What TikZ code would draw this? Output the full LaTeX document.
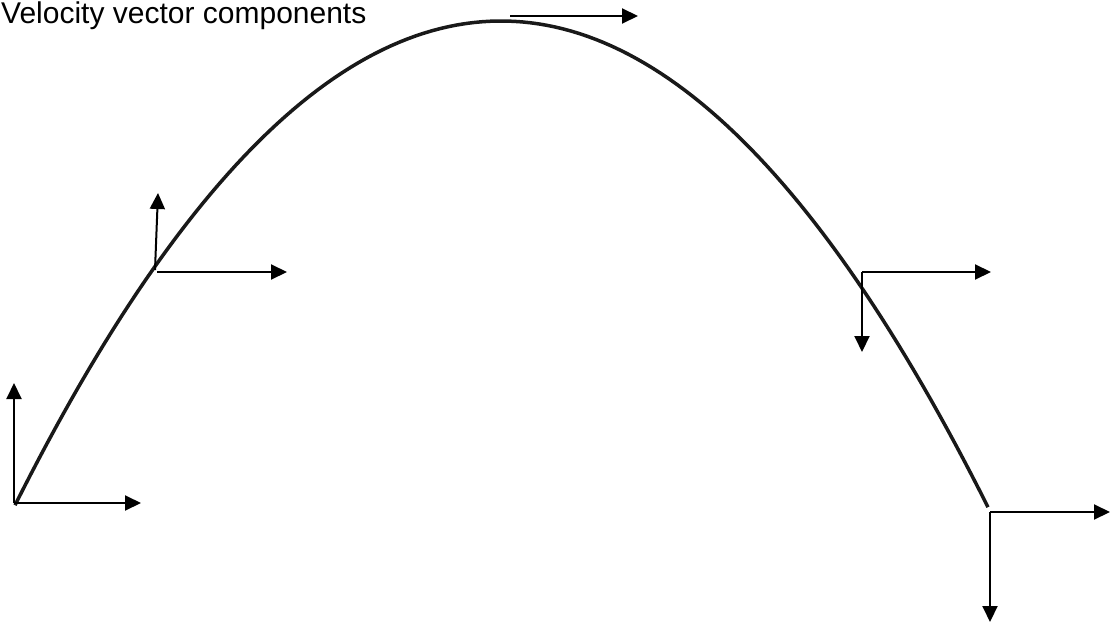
\documentclass[tikz,border=0pt]{standalone}
\usepackage{fontspec}
\setmainfont{Liberation Sans}
\usetikzlibrary{arrows.meta}
\begin{document}
\begin{tikzpicture}[x=1pt,y=-1pt,
  vec/.style={line width=2pt,-{Triangle[length=16pt,width=15pt]}},
  traj/.style={line width=3.5pt,black!90}]
\useasboundingbox[fill=white] (0,0) rectangle (1110,623);
\node[anchor=base west,inner sep=0pt,font=\fontsize{30}{30}\selectfont] (title) at (1,24) {Velocity vector components};
\draw[traj] plot[domain=15:988,samples=120] (\x,{21+20.5*((\x-501)/100)^2});
% launch point
\coordinate (a0) at (14,503);
\coordinate (a0v) at (14,383);
\coordinate (a0h) at (141,503);
\draw[vec] (a0) -- (a0v);
\draw[vec] (a0) -- (a0h);
% rising point
\coordinate (b0) at (155,270);
\coordinate (b0v) at (158,193);
\coordinate (b0h) at (287,272);
\coordinate (b0c) at (157,272);
\draw[vec] (b0) -- (b0v);
\draw[vec] (b0c) -- (b0h);
% top
\coordinate (c0) at (510,16);
\coordinate (c0h) at (638,16);
\draw[vec] (c0) -- (c0h);
% falling point
\coordinate (d0) at (862,272);
\coordinate (d0h) at (991,272);
\coordinate (d0v) at (862,352);
\draw[vec] (d0) -- (d0h);
\draw[vec] (d0) -- (d0v);
% landing
\coordinate (e0) at (990,512);
\coordinate (e0h) at (1110,512);
\coordinate (e0v) at (990,622);
\draw[vec] (e0) -- (e0h);
\draw[vec] (e0) -- (e0v);
\end{tikzpicture}
\end{document}
